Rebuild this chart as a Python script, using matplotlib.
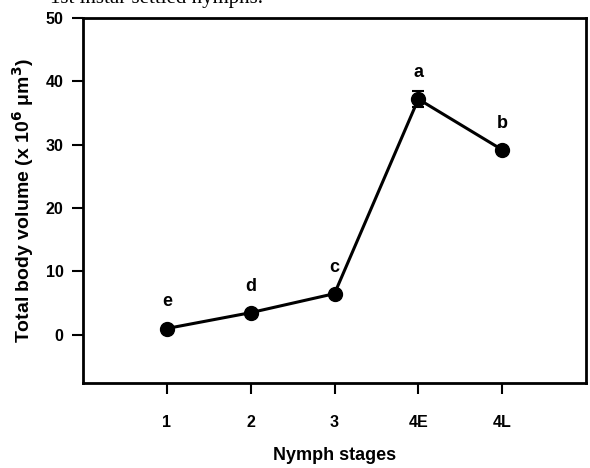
import matplotlib
matplotlib.use("Agg")
import matplotlib.pyplot as plt

stages = ["1", "2", "3", "4E", "4L"]
volume = [1.0, 3.5, 6.5, 37.2, 29.2]
err = [0.3, 0.3, 0.3, 1.3, 0.5]
letters = ["e", "d", "c", "a", "b"]
yticks = [0, 10, 20, 30, 40, 50]

plt.rcParams['font.family'] = ['Liberation Sans', 'DejaVu Sans']

fig = plt.figure(figsize=(5.9, 4.68), dpi=100)
ax = fig.add_axes([83/590, 1 - 383/468, (586-83)/590, (383-18)/468])

x = list(range(1, len(stages) + 1))
ax.errorbar(x, volume, yerr=err, color='black', lw=2.2, marker='o', ms=10,
            capsize=4, capthick=1.5, elinewidth=1.5)
for xi, yi, lab in zip(x, volume, letters):
    ax.annotate(lab, (xi, yi), xytext=(0, 13), textcoords='offset points',
                ha='center', va='bottom', fontsize=13, fontweight='bold')

ax.set_xlim(0, 6)
ax.set_ylim(-7.6, 50)
ax.set_xticks(x)
ax.set_xticklabels(stages)
ax.set_yticks(yticks)
for s in ax.spines.values():
    s.set_linewidth(2)
ax.tick_params(axis='both', direction='out', length=8, width=1.5, labelsize=11.5,
               top=False, right=False)
ax.tick_params(axis='x', pad=15)
ax.tick_params(axis='y', pad=6)
for lab in ax.get_xticklabels() + ax.get_yticklabels():
    lab.set_fontweight('bold')
ax.set_xlabel("Nymph stages", fontsize=13, fontweight='bold', labelpad=12)
ax.set_ylabel("Total body volume (x 10$^{\\mathbf{6}}$ \u03bcm$^{\\mathbf{3}}$)",
              fontsize=14, fontweight='bold', labelpad=7)

fig.text(0.085, 1.004, "1st instar settled nymphs.", family='Liberation Serif',
         fontsize=15, ha='left', va='center')

fig.savefig("out.png", dpi=100)
